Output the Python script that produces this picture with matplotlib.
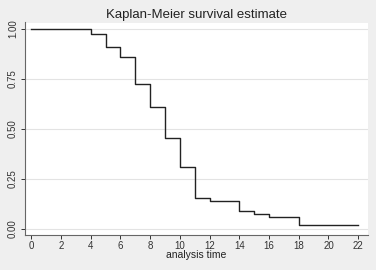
import matplotlib.pyplot as plt

plt.rcParams['font.family'] = ['Liberation Sans', 'DejaVu Sans']

# Kaplan-Meier step values
times = [0, 4, 5, 6, 7, 8, 9, 10, 11, 12, 14, 15, 16, 18, 22]
surv = [1.00, 0.977, 0.909, 0.862, 0.725, 0.608, 0.454, 0.306, 0.151,
        0.137, 0.090, 0.075, 0.060, 0.017, 0.017]

xticks = list(range(0, 23, 2))
yticks = [0.00, 0.25, 0.50, 0.75, 1.00]

fig = plt.figure(figsize=(3.76, 2.70), dpi=100, facecolor='#efefef')
ax = fig.add_axes([25 / 376, 1 - 234.5 / 270, 343 / 376, 212 / 270])
ax.set_facecolor('white')

ax.step(times, surv, where='post', color='#222222', lw=1.0)

ax.set_xlim(-0.42, 22.66)
ax.set_ylim(-0.03, 1.033)
ax.set_xticks(xticks)
ax.set_yticks(yticks)
ax.set_yticklabels([f'{v:.2f}' for v in yticks], rotation=90, va='center')
ax.grid(axis='y', color='#e3e3e3', lw=0.8)
ax.set_axisbelow(True)

for s in ['top', 'right']:
    ax.spines[s].set_visible(False)
for s in ['left', 'bottom']:
    ax.spines[s].set_color('#666666')
    ax.spines[s].set_linewidth(0.8)
ax.tick_params(labelsize=7, colors='#333333', length=3, width=0.7, pad=2)

ax.set_xlabel('analysis time', fontsize=7.5, labelpad=-1, color='#222222')
ax.set_title('Kaplan-Meier survival estimate', fontsize=9.5, pad=3,
             color='#222222')

fig.savefig('out.png', dpi=100, facecolor=fig.get_facecolor())
